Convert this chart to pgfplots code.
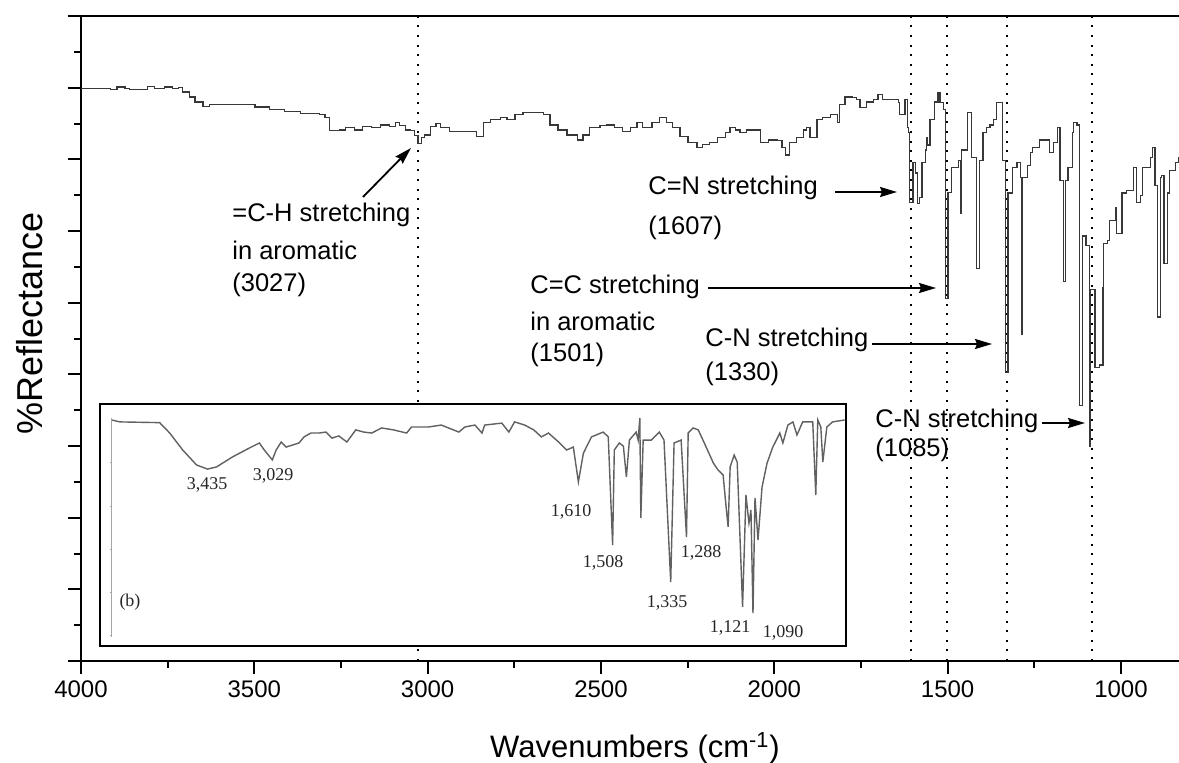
\documentclass[border=0pt]{standalone}
\usepackage{pgfplots}
\pgfplotsset{compat=1.18}
\usepackage{pgfplotstable}
\usepackage{fontspec}
\setmainfont{Liberation Sans}
\newfontfamily\serif{Liberation Serif}
\usetikzlibrary{arrows.meta}

% main FTIR spectrum (wavenumber, reflectance)
\pgfplotstableread{
w r
4000 79.9
3916 79.7
3896 80.1
3873 79.9
3859 79.8
3807 80.2
3787 79.9
3758 80.1
3737 79.9
3720 80.0
3706 79.4
3686 78.7
3671 78.0
3648 77.4
3628 77.6
3585 77.7
3541 77.6
3498 77.3
3455 77.0
3412 76.7
3368 76.4
3311 76.2
3296 75.8
3282 74.0
3253 74.1
3238 74.4
3210 74.1
3189 74.6
3161 74.4
3137 74.8
3109 74.6
3094 75.1
3080 74.7
3065 74.1
3051 74.0
3039 73.3
3028 72.2
3019 73.0
3008 73.4
2993 74.6
2976 75.0
2962 74.4
2936 73.9
2892 73.9
2869 73.9
2858 73.2
2840 75.1
2820 75.5
2791 75.8
2771 75.5
2748 76.3
2725 76.6
2690 76.6
2667 76.2
2647 74.8
2624 74.1
2598 73.4
2569 72.7
2552 73.4
2532 74.4
2503 74.7
2483 74.8
2460 74.4
2437 73.9
2416 74.4
2396 75.2
2379 74.5
2353 75.2
2330 75.8
2310 75.2
2295 74.4
2272 73.2
2249 72.3
2223 71.7
2206 72.1
2186 72.4
2165 73.0
2142 73.8
2128 74.5
2113 74.1
2099 73.7
2079 74.1
2062 74.1
2041 72.4
2018 72.7
1992 72.6
1978 71.6
1969 70.6
1955 72.4
1935 73.0
1917 74.1
1906 74.4
1897 73.1
1877 75.5
1860 75.8
1839 76.2
1819 75.2
1811 77.7
1796 78.7
1776 78.6
1762 78.3
1753 77.2
1733 78.0
1715 78.3
1701 79.0
1687 78.3
1658 78.4
1643 77.9
1638 76.2
1629 76.2
1623 78.3
1617 74.5
1612 73.8
1609 64.0
1600 69.5
1594 68.1
1588 63.9
1580 64.7
1574 69.5
1565 71.3
1560 73.1
1557 72.0
1551 75.5
1537 78.0
1528 79.3
1522 77.9
1513 76.9
1505 50.6
1499 65.4
1488 68.8
1479 68.8
1470 69.9
1464 62.5
1459 71.3
1444 76.5
1436 76.5
1430 70.3
1418 54.8
1407 69.9
1398 73.7
1387 74.5
1378 74.8
1369 75.5
1358 77.9
1349 77.9
1343 69.9
1332 40.2
1326 65.3
1312 68.9
1300 69.5
1291 67.5
1286 45.5
1283 67.5
1271 69.2
1262 70.9
1254 71.7
1234 72.7
1213 72.7
1205 70.9
1196 72.3
1182 74.5
1176 67.1
1167 52.9
1159 67.1
1153 68.9
1141 73.7
1138 75.2
1127 74.8
1121 35.7
1110 59.3
1101 58.0
1092 29.9
1087 51.8
1075 41.0
1063 41.3
1052 52.1
1050 58.3
1040 58.7
1032 61.5
1017 63.3
1012 59.7
997 65.3
983 65.7
965 68.8
954 64.0
945 65.0
937 68.9
916 70.3
908 71.7
902 66.4
896 48.0
887 67.5
882 67.8
876 55.5
867 65.3
859 68.5
844 69.6
833 70.3
}\mainspec

% reference spectrum (b), wavenumber axis compressed by 2 above 2000
\pgfplotstableread{
w r
4000 93.4
3951 92.6
3714 92.3
3654 88.0
3577 81.0
3494 74.8
3429 73.1
3375 74.0
3281 78.1
3180 81.8
3120 83.9
3091 81.0
3043 76.9
3020 81.0
2990 84.3
2961 82.2
2884 83.9
2854 86.4
2813 88.0
2765 88.0
2724 88.4
2688 85.9
2647 86.8
2599 84.3
2546 89.3
2498 88.4
2451 88.0
2392 90.1
2321 89.3
2243 88.0
2214 90.5
2113 90.5
2036 91.3
1966 88.4
1948 90.5
1918 91.3
1897 88.0
1889 91.3
1838 92.1
1817 88.4
1800 92.6
1770 91.3
1743 89.3
1720 86.4
1699 88.0
1669 84.3
1645 81.0
1625 82.2
1610 67.8
1595 79.7
1571 86.4
1536 88.4
1521 86.4
1508 41.7
1503 81.0
1488 83.9
1476 82.6
1467 69.8
1458 85.1
1438 88.4
1432 85.1
1427 94.2
1424 52.9
1417 85.1
1393 85.1
1369 88.4
1355 85.1
1335 26.4
1325 83.9
1304 85.1
1288 45.0
1283 88.0
1268 90.1
1253 89.3
1235 83.9
1208 75.6
1194 72.7
1179 70.7
1170 57.4
1164 49.2
1158 74.0
1146 78.9
1137 76.0
1121 16.1
1111 62.4
1102 50.8
1096 56.2
1090 13.6
1084 61.2
1075 43.8
1063 65.7
1048 75.6
1031 82.2
1010 88.0
1001 83.9
986 91.3
971 92.6
959 87.2
942 92.6
912 92.6
903 62.4
897 93.4
888 90.5
882 76.0
870 90.5
853 92.6
817 93.4
}\insetspec

\newcommand{\ann}{\fontsize{12.75}{12.75}\selectfont}
\newcommand{\lab}{\serif\fontsize{9}{9}\selectfont}

\begin{document}
\begin{tikzpicture}
\useasboundingbox (0,0) rectangle (589.5pt,381pt);

\begin{axis}[
  at={(40.5pt,50.5pt)}, anchor=south west,
  scale only axis, width=549pt, height=322.5pt,
  xmin=832.7, xmax=4000, x dir=reverse,
  ymin=0, ymax=90,
  axis x line*=box, axis y line*=left,
  xtick={1000,1500,...,4000}, minor x tick num=1,
  ytick={0,10,...,90}, minor y tick num=1, yticklabels={},
  tick align=outside, xtick pos=left, ytick pos=left,
  major tick length=6.5pt, minor tick length=3.5pt,
  axis line style={line width=1.3pt},
  tick style={black, line width=1pt},
  /pgf/number format/assume math mode=true,
  /pgf/number format/1000 sep={},
  xticklabel style={font=\fontsize{12}{12}\selectfont},
  xlabel={Wavenumbers (cm\textsuperscript{-1})},
  xlabel style={font=\fontsize{15.5}{15.5}\selectfont, at={(axis description cs:0.5046,0)}, anchor=center, yshift=-43.5pt},
  ylabel={\%Reflectance},
  ylabel style={font=\fontsize{18}{18}\selectfont, at={(axis description cs:-0.0464,0.524)}, anchor=center},
  clip=false,
]
  \foreach \v in {3027,1607,1501,1330,1085}{
    \edef\tmp{\noexpand\draw[line width=1pt, dash pattern=on 1pt off 3.8pt] (axis cs:\v,0) -- (axis cs:\v,90);}\tmp
  }
  \addplot[const plot, black!78, line width=0.55pt] table[x=w, y=r] {\mainspec};
\end{axis}

\begin{axis}[
  at={(50pt,58pt)}, anchor=south west,
  scale only axis, width=373pt, height=121pt,
  xmin=813, xmax=3034.7, x dir=reverse,
  ymin=0, ymax=100,
  xtick=\empty, ytick=\empty,
  axis line style={line width=1.2pt},
  axis background/.style={fill=white},
]
  \addplot[black!62, line width=0.7pt]
    table[x expr={(\thisrow{w}>2000) ? (2000+0.5*(\thisrow{w}-2000)) : (\thisrow{w})}, y=r] {\insetspec};
\end{axis}

\begin{scope}[x=0.5pt, y=-0.5pt, shift={(0pt,381pt)}]
  % inner axis of spectrum (b)
  \draw[black!35, line width=0.5pt] (111.7,418) -- (111.7,637);
  \foreach \t in {462.7,506,549,592,635}
    \draw[black!35, line width=0.5pt] (109.7,\t) -- (111.7,\t);

  % band assignments
  \begin{scope}[every node/.style={anchor=west, inner sep=0pt, font=\ann}]
    \node at (232,215) {=C-H stretching};
    \node at (232,250) {in aromatic};
    \node at (232,285) {(3027)};
    \node at (648,188) {C=N stretching};
    \node at (648,228) {(1607)};
    \node at (530,287) {C=C stretching};
    \node at (530,321) {in aromatic};
    \node at (530,355) {(1501)};
    \node at (705,340) {C-N stretching};
    \node at (705,374) {(1330)};
    \node at (875,421) {C-N stretching};
    \node at (875,450) {(1085)};
  \end{scope}

  \begin{scope}[line width=0.9pt, -{Stealth[length=8.5pt, width=5pt, inset=1pt]}]
    \draw (363,197) -- (411,148);
    \draw (835,192) -- (897,192);
    \draw (708,288) -- (936,288);
    \draw (872,344) -- (992,344);
    \draw (1042,423) -- (1085,423);
  \end{scope}

  % peak labels of spectrum (b)
  \begin{scope}[every node/.style={inner sep=0pt, font=\lab, text=black!85}]
    \node at (207,485) {3,435};
    \node at (273,476) {3,029};
    \node at (571,512) {1,610};
    \node at (603,563) {1,508};
    \node at (667,603) {1,335};
    \node at (701,553) {1,288};
    \node at (730,628) {1,121};
    \node at (783,633) {1,090};
    \node at (130,602) {(b)};
  \end{scope}
\end{scope}
\end{tikzpicture}
\end{document}
